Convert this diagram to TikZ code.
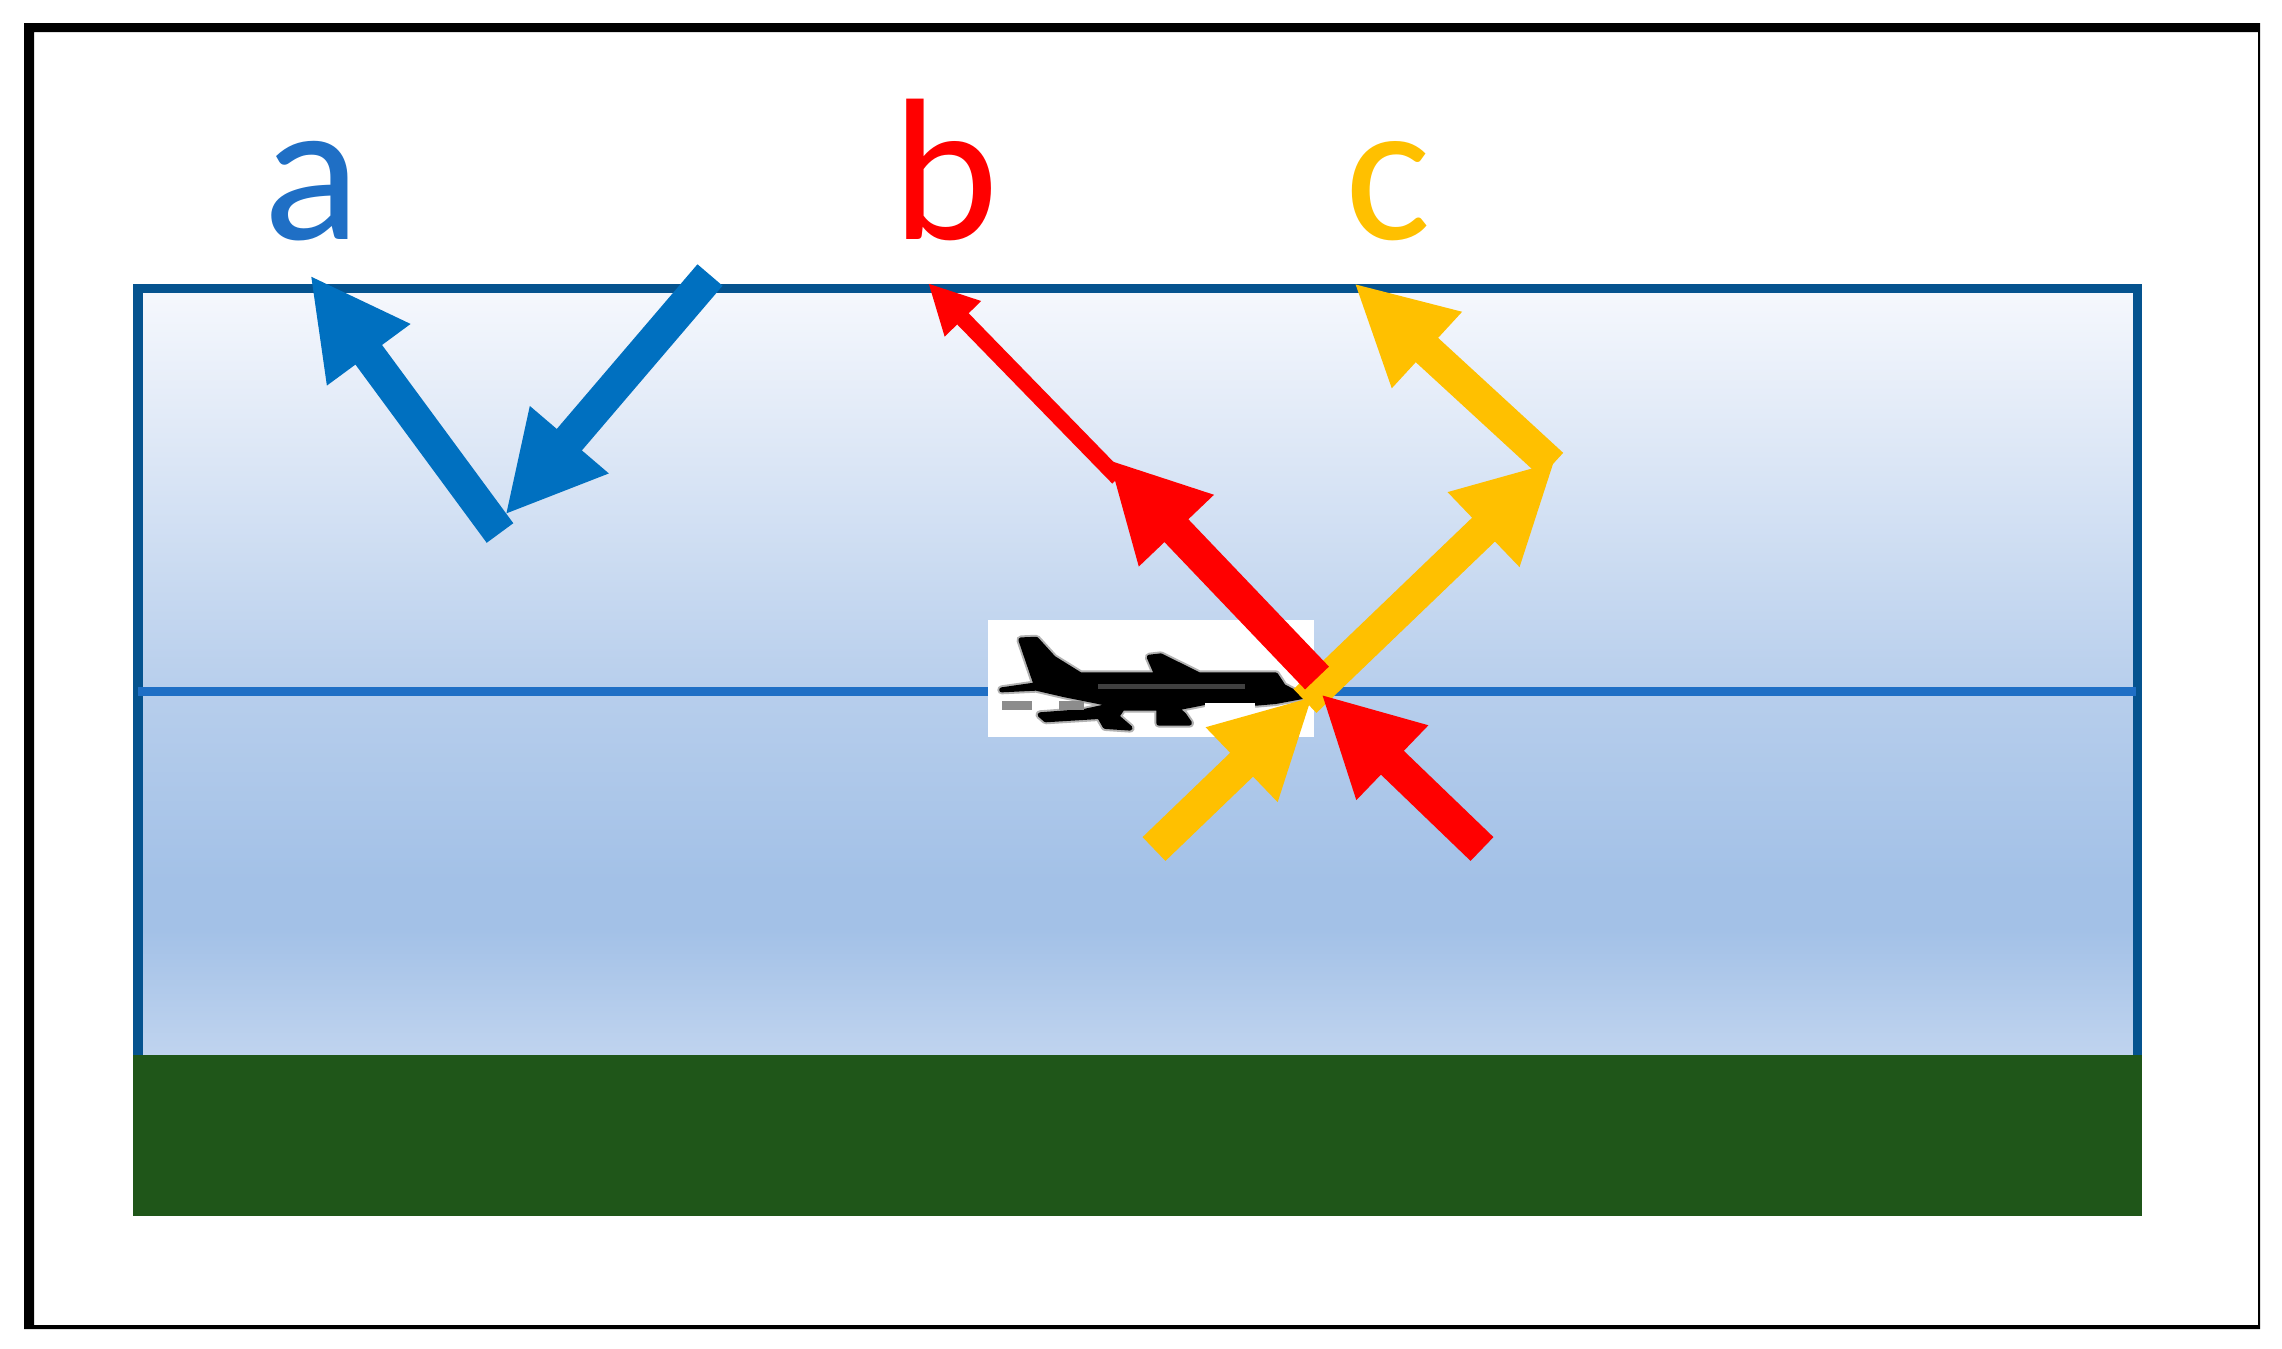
\documentclass[tikz,border=0pt]{standalone}
\usepackage{fontspec}
\setmainfont{Carlito}
\usepackage{xcolor}
\usetikzlibrary{arrows.meta}
\definecolor{skyline}{HTML}{05538F}
\definecolor{midline}{HTML}{1F6FC5}
\definecolor{skytop}{HTML}{F6F8FD}
\definecolor{skyhalf}{HTML}{B7CEEC}
\definecolor{skymid}{HTML}{A3C1E7}
\definecolor{skylow}{HTML}{C0D4EF}
\definecolor{ground}{HTML}{1F5619}
\definecolor{raya}{HTML}{0070C0}
\definecolor{rayc}{HTML}{FFC000}
\begin{document}
\begin{tikzpicture}[
  x=0.01cm,y=-0.01cm,
  ray/.style={line width=0.33cm,-{Triangle[length=0.99cm,width=0.96cm]}},
  thinray/.style={line width=0.16cm,-{Triangle[length=0.5cm,width=0.47cm]}},
  letter/.style={anchor=base,inner sep=0pt,font=\fontsize{57.5}{58}\selectfont},
]
\useasboundingbox (0,0) rectangle (2282,1348);
\fill[black,even odd rule] (24,23) rectangle (2260,1329) (34,32) rectangle (2258,1325);
% sky
\shade[top color=skytop,bottom color=skyhalf] (138,288) rectangle (2138,692);
\shade[top color=skyhalf,bottom color=skymid] (138,691) rectangle (2138,881);
\fill[skymid] (138,880) rectangle (2138,931);
\shade[top color=skymid,bottom color=skylow] (138,930) rectangle (2138,1056);
\draw[skyline,line width=0.09cm] (138,1056) -- (138,288.5) -- (2137.5,288.5) -- (2137.5,1056);
\fill[ground] (133,1055) rectangle (2142,1216);
\draw[midline,line width=0.09cm] (138,691.5) -- (2136,691.5);
% plane
\fill[white] (988,620) rectangle (1314,737);
\begin{scope}[shift={(950,580)},x=0.003827cm,y=-0.003333cm]
\def\planeshape{(135,330) -- (225,315) -- (185,180) -- (225,178) -- (270,235) -- (340,285)
  -- (540,285) -- (520,232) -- (550,228) -- (650,285) -- (850,285) -- (870,320) -- (920,350)
  -- (850,365) -- (800,370) -- (665,368) -- (590,385) -- (610,405) -- (625,430) -- (545,430)
  -- (545,385) -- (450,385) -- (435,410) -- (470,445) -- (405,440) -- (390,410) -- (250,420)
  -- (235,405) -- (350,395) -- (430,375) -- (300,345) -- (225,325) -- cycle}
\draw[black!30,fill=black!30,line width=0.09cm,line join=round] \planeshape;
\draw[black,fill=black,line width=0.05cm,line join=round] \planeshape;
\fill[black!45] (135,365) rectangle (215,390);
\fill[black!45] (285,365) rectangle (350,390);
\fill[black!75] (385,312) rectangle (770,328);
\fill[white] (665,369) rectangle (797,470);
\end{scope}
% end points
\coordinate (a0) at (710,275);
\coordinate (a1) at (505,515);
\coordinate (a2) at (500,533);
\coordinate (a3) at (310,275);
\coordinate (b0) at (1482,849);
\coordinate (b1) at (1321,694);
\coordinate (b2) at (1317,678);
\coordinate (b3) at (1108,459);
\coordinate (b4) at (1118,478);
\coordinate (b5) at (928,283);
\coordinate (c0) at (1154,849);
\coordinate (c1) at (1313,696);
\coordinate (c2) at (1305,701);
\coordinate (c3) at (1555,461);
\coordinate (c4) at (1552,465);
\coordinate (c5) at (1354,283);
\draw[ray,raya] (a0) -- (a1);
\draw[ray,raya] (a2) -- (a3);
\draw[ray,rayc] (c0) -- (c1);
\draw[ray,rayc] (c2) -- (c3);
\draw[ray,rayc] (c4) -- (c5);
\draw[ray,red] (b0) -- (b1);
\draw[thinray,red] (b4) -- (b5);
\draw[ray,red] (b2) -- (b3);
\node[letter,text=midline] (lettera) at (312,239) {a};
\node[letter,text=red] (letterb) at (946,239) {b};
\node[letter,text=rayc] (letterc) at (1388,239) {c};
\end{tikzpicture}
\end{document}
